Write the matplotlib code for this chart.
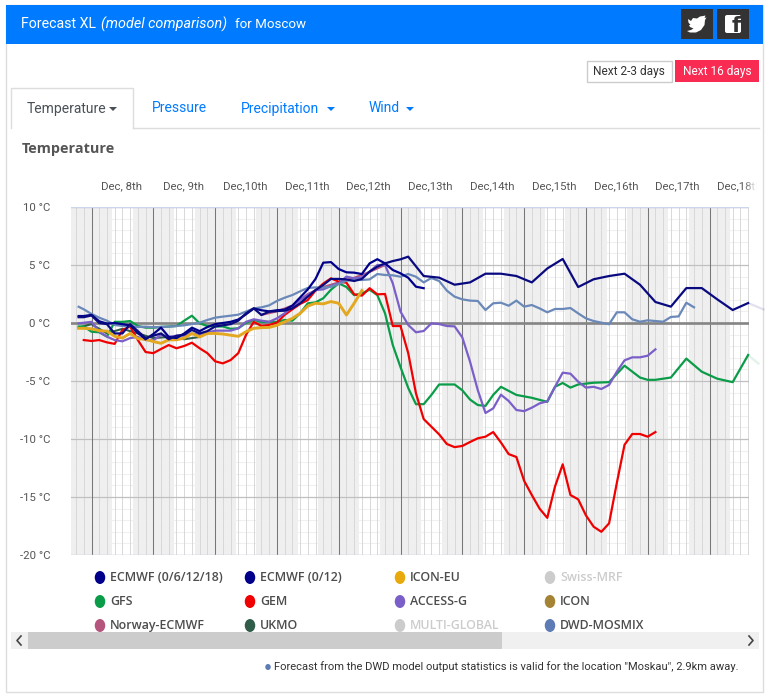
import numpy as np
import matplotlib
matplotlib.use("Agg")
import matplotlib.pyplot as plt
from matplotlib.patches import Rectangle, Ellipse, Polygon, FancyBboxPatch

# ---- data: hours after Dec 8th 00:00, temperature in deg C ----
ecmwf_a_h = [-5, -3, 0, 3, 6, 9, 12, 15, 18, 21, 24, 27, 30, 33, 36, 39, 42, 45, 48, 51, 54, 57, 60, 63, 66, 69, 72, 75, 78, 81, 84, 87, 90, 93, 96, 99, 102, 105, 108, 111, 114, 117, 120, 123, 126, 129]
ecmwf_a_t = [0.6, 0.6, 0.7, 0.15, -0.05, 0.0, -0.1, -0.2, -0.85, -1.4, -0.95, -0.4, -1.2, -1.3, -0.9, -0.4, -0.7, -0.35, -0.1, 0.0, 0.1, 0.3, 0.75, 1.25, 1.1, 1.0, 1.1, 1.15, 1.5, 2.2, 2.9, 3.8, 5.2, 5.25, 4.65, 4.37, 4.34, 4.22, 5.14, 5.5, 5.14, 4.57, 4.28, 3.9, 3.13, 3.0]

ecmwf_b_h = [-5, -3, 0, 3, 6, 9, 12, 15, 18, 21, 24, 27, 30, 33, 36, 39, 42, 45, 48, 51, 54, 57, 60, 63, 66, 69, 72, 75, 78, 81, 84, 87, 90, 93, 96, 99, 102, 105, 108, 111, 114, 117, 120, 123, 129, 135, 141, 147, 153, 159, 165, 171, 177, 183, 189, 195, 201, 207, 213, 219, 225, 231, 237, 243, 249, 255, 261]
ecmwf_b_t = [0.5, 0.5, 0.65, 0.0, -0.1, -0.9, -0.9, -0.1, -0.7, -1.3, -1.1, -0.9, -1.4, -1.1, -1.0, -0.6, -0.9, -0.7, -0.3, -0.2, -0.1, 0.2, 0.83, 1.26, 0.69, 0.98, 1.03, 1.06, 1.26, 1.7, 2.27, 2.84, 3.28, 3.8, 3.8, 3.76, 3.62, 3.8, 4.43, 4.86, 5.14, 5.34, 5.49, 5.72, 4.05, 3.91, 3.3, 3.5, 4.25, 4.25, 4.05, 3.5, 4.7, 5.52, 3.1, 3.77, 4.05, 4.25, 3.3, 1.81, 1.41, 3.01, 3.01, 2.04, 1.12, 1.72, 1.17]

mosmix_h = [-5, -3] + list(range(0, 235, 3))
mosmix_t = [1.4, 1.18, 0.78, 0.46, 0.2, -0.17, -0.26, -0.26, -0.34, -0.32, -0.37, -0.34, -0.32, -0.26, -0.2, -0.09, 0.03, 0.26, 0.46, 0.55, 0.63, 0.72, 0.98, 1.26, 1.35, 1.52, 1.9, 2.18, 2.41, 2.73, 3.02, 3.07, 3.05, 3.13, 3.36, 3.65, 3.71, 3.71, 3.76, 4.22, 4.14, 4.11, 3.99, 4.22, 3.99, 3.5, 3.88, 3.62, 2.79, 2.27, 2.04, 1.93, 1.9, 1.12, 1.7, 1.75, 1.49, 1.93, 1.41, 1.55, 1.26, 0.92, 1.21, 1.21, 1.29, 0.83, 0.4, 0.17, 0.03, -0.11, 0.92, 0.92, 0.32, 0.11, 0.23, 0.17, 0.11, 0.52, 0.57, 1.75, 1.35]

gfs_h = [-5, -3, 0, 3, 6, 9, 12, 15, 18, 21, 24, 27, 30, 33, 36, 39, 42, 45, 48, 51, 54, 57, 60, 63, 66, 69, 72, 75, 78, 81, 84, 87, 90, 93, 96, 99, 102, 105, 108, 111, 114, 117, 120, 123, 126, 129, 132, 135, 141, 144, 147, 150, 153, 156, 159, 165, 171, 177, 180, 183, 186, 189, 195, 201, 207, 213, 216, 219, 225, 231, 237, 243, 249, 255, 259]
gfs_t = [-0.3, -0.3, -0.75, -0.8, -1.17, 0.1, 0.1, 0.17, -0.26, -0.4, -0.4, -0.34, -0.3, -0.26, 0.2, 0.63, -0.03, -0.26, -0.3, -0.3, -0.5, -0.46, 0.0, 0.26, 0.1, 0.1, 0.1, 0.26, 0.2, 0.83, 1.7, 1.78, 2.13, 2.87, 3.42, 3.1, 2.4, 2.55, 2.87, 2.4, 0.83, -1.9, -3.8, -5.6, -7.0, -7.0, -6.2, -5.3, -5.3, -5.8, -6.6, -7.07, -7.15, -6.2, -5.5, -6.2, -6.45, -6.8, -5.5, -5.17, -5.57, -5.3, -5.15, -5.1, -3.68, -4.7, -4.9, -4.9, -4.7, -3.07, -4.2, -4.8, -5.1, -2.76, -3.5]

gem_h = [-3] + list(range(0, 220, 3))
gem_t = [-1.47, -1.55, -1.47, -1.67, -1.8, -0.6, -0.3, -1.47, -2.5, -2.6, -2.24, -1.9, -2.18, -1.98, -1.7, -2.18, -2.6, -3.3, -3.48, -3.2, -2.6, -1.03, 0.1, -0.26, -0.17, 0.03, 0.7, 1.18, 1.64, 1.98, 2.8, 3.4, 3.85, 3.56, 3.48, 2.47, 2.36, 3.0, 2.47, 2.5, -0.26, -0.26, -2.6, -6.06, -8.28, -8.94, -9.6, -10.43, -10.7, -10.6, -10.26, -9.94, -9.8, -9.4, -10.3, -11.3, -11.55, -13.6, -14.83, -16.0, -16.8, -14.1, -12.18, -14.83, -15.2, -16.58, -17.56, -18.0, -17.27, -13.8, -10.5, -9.57, -9.57, -9.8, -9.4]

access_h = [-5] + list(range(0, 220, 3))
access_t = [-0.03, 0.1, -0.75, -1.18, -1.47, -1.58, -1.3, -1.2, -1.47, -1.5, -1.03, -1.18, -1.1, -1.1, -0.9, -1.03, -0.83, -0.66, -0.66, -0.66, -0.46, 0.1, 0.32, 0.2, 0.1, 0.4, 0.83, 1.4, 1.98, 2.41, 2.84, 2.9, 3.19, 3.42, 4.0, 3.85, 3.94, 4.43, 5.0, 5.0, 3.42, 0.98, -0.17, -0.8, -0.69, -0.03, -0.09, -0.26, -0.29, -1.24, -3.33, -5.78, -7.76, -7.36, -6.18, -6.72, -7.5, -7.6, -7.3, -6.93, -6.75, -5.5, -4.28, -4.37, -5.06, -5.57, -5.5, -5.69, -5.34, -4.2, -3.22, -2.96, -2.96, -2.82, -2.27]

icon_eu_h = [-5, -3] + list(range(0, 106, 3))
icon_eu_t = [-0.46, -0.46, -0.5, -0.66, -0.7, -1.15, -1.3, -0.9, -1.35, -1.4, -1.6, -1.75, -1.45, -1.45, -1.3, -0.9, -1.2, -0.9, -0.9, -0.95, -1.05, -1.15, -0.75, -0.46, -0.4, -0.38, -0.2, 0.1, 0.4, 0.83, 1.46, 1.7, 1.65, 1.85, 1.7, 0.69, 1.7, 2.8]

ukmo_h = [-5, 0, 6, 12, 18, 24, 30, 36, 42]
ukmo_t = [-0.4, -0.1, -0.9, -0.5, -0.9, -1.3, -1.2, -1.4, -1.2]

norway_h = [66, 72, 78, 84, 90, 96, 102, 108, 114]
norway_t = [0.7, 1.0, 1.5, 2.5, 3.1, 3.5, 3.9, 4.4, 5.0]

y_ticks = [10, 5, 0, -5, -10, -15, -20]
day_labels = ["Dec, 8th", "Dec, 9th", "Dec,10th", "Dec,11th", "Dec,12th", "Dec,13th", "Dec,14th", "Dec,15th", "Dec,16th", "Dec,17th", "Dec,18th"]
legend_rows = [
    ["ECMWF (0/6/12/18)", "ECMWF (0/12)", "ICON-EU", "Swiss-MRF"],
    ["GFS", "GEM", "ACCESS-G", "ICON"],
    ["Norway-ECMWF", "UKMO", "MULTI-GLOBAL", "DWD-MOSMIX"],
]
legend_colors = [
    ["#00008b", "#00008b", "#e8a90c", "#cccccc"],
    ["#0a9c49", "#f00000", "#7b5fc9", "#a58334"],
    ["#b5547c", "#2f5d4a", "#cccccc", "#5d7bb5"],
]
legend_hidden = {"Swiss-MRF", "MULTI-GLOBAL"}

W, H = 769, 700
FONT = "Roboto"
plt.rcParams["font.family"] = [FONT, "DejaVu Sans"]
fig = plt.figure(figsize=(W / 100, H / 100), dpi=100, facecolor="white")


def page_axes(z):
    a = fig.add_axes([0, 0, 1, 1], zorder=z)
    a.set_xlim(0, W)
    a.set_ylim(H, 0)
    a.axis("off")
    a.patch.set_alpha(0)
    return a


bg = page_axes(0)
# card and header
bg.add_patch(Rectangle((5.5, 5), 757, 687, fc="white", ec="#dddddd", lw=1))
bg.add_patch(Rectangle((6, 5), 757, 39, fc="#007bff", ec="none"))
bg.text(21, 24.5, "Forecast XL", color="white", fontsize=10.2, va="center")
bg.text(101, 24.5, "(model comparison)", color="white", fontsize=10.4, va="center", style="italic")
bg.text(235, 24.5, "for Moscow", color="white", fontsize=9.6, va="center")
# social buttons
bg.add_patch(Rectangle((681, 9), 32, 30, fc="#333333", ec="none"))
bg.add_patch(Rectangle((717, 9), 32, 30, fc="#333333", ec="none"))
bird = [(688, 19), (691, 21), (693, 18), (697, 18.5), (700, 16.5), (703, 16), (705.5, 15.5), (704.5, 18), (706.5, 17.5), (705, 20),
        (704.5, 25), (701, 30), (696, 32.5), (690, 32.5), (687, 31), (691, 30), (693.5, 28.5), (690, 27), (689, 25), (690.5, 25), (688.5, 22.5)]
bg.add_patch(Polygon(bird, closed=True, fc="white", ec="none"))
bg.add_patch(FancyBboxPatch((725, 15), 16, 18, boxstyle="round,pad=0,rounding_size=2", fc="white", ec="none"))
bg.text(736, 25.5, "f", color="#333333", fontsize=15, fontweight="bold", ha="center", va="center", family="DejaVu Sans")
# range buttons
bg.add_patch(Rectangle((586.5, 60.5), 85, 21, fc="white", ec="#cccccc", lw=1))
bg.text(629, 71, "Next 2-3 days", color="#333333", fontsize=8.6, ha="center", va="center")
bg.add_patch(Rectangle((675, 60), 84, 22, fc="#f92b53", ec="none"))
bg.text(717, 71, "Next 16 days", color="white", fontsize=8.6, ha="center", va="center")
# tabs
bg.plot([11, 11, 132.5, 132.5], [128, 87.5, 87.5, 128], color="#dddddd", lw=1)
bg.plot([133, 759], [128, 128], color="#dddddd", lw=1)
bg.text(27, 108.5, "Temperature", color="#495057", fontsize=10, va="center")
bg.add_patch(Polygon([(109, 107), (117, 107), (113, 111)], fc="#495057", ec="none"))
bg.text(151.5, 108.5, "Pressure", color="#007bff", fontsize=10, va="center")
bg.text(240.5, 108.5, "Precipitation", color="#007bff", fontsize=10, va="center")
bg.add_patch(Polygon([(327, 107), (335, 107), (331, 111)], fc="#007bff", ec="none"))
bg.text(369, 108.5, "Wind", color="#007bff", fontsize=10, va="center")
bg.add_patch(Polygon([(406, 107), (414, 107), (410, 111)], fc="#007bff", ec="none"))
bg.text(22, 148.5, "Temperature", color="#555555", fontsize=10.4, fontweight="bold", va="center", family="Open Sans")

# ---- chart ----
PX_H = 2.575
x0 = 91.5
left, right, top, bottom = 71, 748.5, 207, 555
ax = fig.add_axes([left / W, 1 - bottom / H, (right - left) / W, (bottom - top) / H], zorder=1)
ax.patch.set_alpha(0)
ax.set_xlim((left - x0) / PX_H, (right - x0) / PX_H)
ax.set_ylim(-20, 10)
for s in ax.spines.values():
    s.set_visible(False)

for start in range(-32, 256, 24):
    ax.axvspan(start, start + 16, color="#efefef", lw=0, zorder=0)
for v in range(-20, 11):
    ax.axhline(v, color="#f0f0f0", lw=0.8, zorder=0.5)
for h in range(-6, 256, 3):
    ax.axvline(h, color="#d8d8d8", lw=0.7, zorder=1)
for v in y_ticks:
    ax.axhline(v, color="#c0c0c0", lw=0.9, zorder=1.1)
for d in range(0, 256, 24):
    ax.axvline(d, color="#777777", lw=0.75, zorder=1.2)
ax.axhline(0, color="#858585", lw=1.9, zorder=1.3)
ax.axhline(10, color="#ccd6eb", lw=1, zorder=1.3)
ax.axhline(-20, color="#ccd6eb", lw=1, zorder=1.3)

ax.set_yticks(y_ticks)
ax.set_yticklabels([f"{v} °C" for v in y_ticks], fontsize=8.2, color="#555555")
ax.tick_params(axis="y", length=0, pad=15)
ax.set_xticks([])
for i, lab in enumerate(day_labels):
    ax.annotate(lab, (12 + 24 * i, 10), xytext=(-0.7, 15), textcoords="offset points", ha="center", va="center",
                fontsize=8.2, color="#555555", annotation_clip=False)


def draw(h, t, color, lw, z, alpha=1.0):
    h, t = np.array(h), np.array(t)
    inside = h <= 255
    ax.plot(h[inside], t[inside], color=color, lw=lw, zorder=z, alpha=alpha, solid_joinstyle="round", clip_on=False)
    if (~inside).any():
        i = np.argmax(~inside)
        ax.plot(h[i - 1:], t[i - 1:], color=color, lw=lw, zorder=z, alpha=0.12, clip_on=False)


draw(ukmo_h, ukmo_t, "#2f5d4a", 1.5, 3)
draw(norway_h, norway_t, "#b5547c", 1.5, 3.1)
draw(gfs_h, gfs_t, "#0a9c49", 1.6, 4)
draw(gem_h, gem_t, "#f00000", 1.6, 4.1)
draw(access_h, access_t, "#7b5fc9", 1.6, 4.2)
draw(mosmix_h, mosmix_t, "#6a88b8", 1.6, 4.3)
draw(icon_eu_h, icon_eu_t, "#e3a820", 2.1, 5)
draw(ecmwf_a_h, ecmwf_a_t, "#00008b", 1.6, 6)
draw(ecmwf_b_h, ecmwf_b_t, "#0a0a80", 1.6, 6.1)

top_ax = page_axes(2)
# fade of the scrolled chart edge
grad = np.ones((1, 20, 4))
grad[0, :, 3] = np.linspace(0, 1, 20)
top_ax.imshow(grad, extent=(743, 757, 200, 182), aspect="auto", zorder=1)
top_ax.add_patch(Rectangle((757, 182), 5, 18, fc="white", ec="none", zorder=1))
top_ax.set_xlim(0, W)
top_ax.set_ylim(H, 0)

# legend
for r, (names, cols) in enumerate(zip(legend_rows, legend_colors)):
    y = 577.5 + 24 * r
    for c, (name, col) in enumerate(zip(names, cols)):
        x = 100 + 150 * c
        top_ax.add_patch(Ellipse((x, y), 10.5, 13, fc=col, ec="none"))
        top_ax.text(x + 10, y, name, fontsize=8.9, va="center", family="Open Sans", fontweight="semibold",
                    color="#cccccc" if name in legend_hidden else "#4d4d4d")

# scrollbar
top_ax.add_patch(Rectangle((11, 632), 748, 17, fc="#f0f0f0", ec="none", zorder=3))
top_ax.add_patch(Rectangle((28, 632), 474, 17, fc="#cccccc", ec="none", zorder=3))
top_ax.plot([21, 17, 21], [636, 640.5, 645], color="#444444", lw=1.2, zorder=4)
top_ax.plot([749, 753, 749], [636, 640.5, 645], color="#444444", lw=1.2, zorder=4)

# footnote
top_ax.add_patch(Ellipse((268, 667), 5.5, 6, fc="#5d7bb5", ec="none"))
top_ax.text(274.5, 667, 'Forecast from the DWD model output statistics is valid for the location "Moskau", 2.9km away.',
            fontsize=8.05, color="#333333", va="center")

fig.savefig("out.png", dpi=100)
